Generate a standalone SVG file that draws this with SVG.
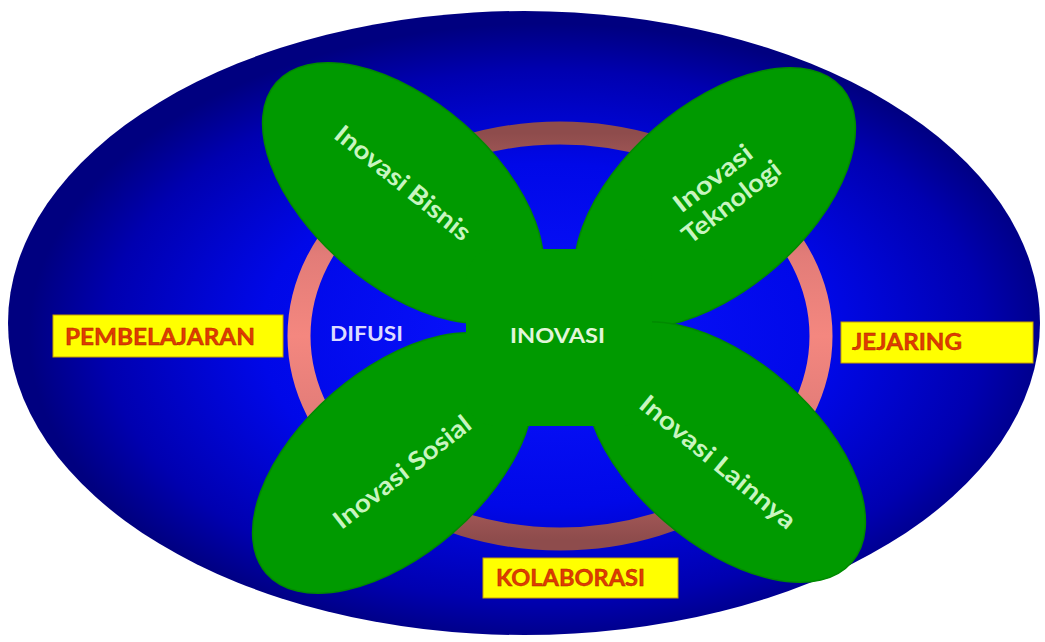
<svg xmlns="http://www.w3.org/2000/svg" width="1045" height="642" viewBox="0 0 1045 642">
<style>
.petal{fill:#009a00;stroke:#008a00;stroke-width:1.5}
.ptxt{font-family:Lato,"Open Sans",sans-serif;font-weight:bold;font-size:25px;fill:#c8f5c0;text-anchor:middle}
.lbox{fill:#ffff00;stroke:#c8a000;stroke-width:1}
.ltxt{font-family:Lato,"Open Sans",sans-serif;font-weight:bold;font-size:22px;fill:#e23a00;stroke:#a02800;stroke-width:0.4}
.ctxt{font-family:Lato,"Open Sans",sans-serif;font-weight:bold;font-size:21px}
</style>
<defs>
<radialGradient id="bg" cx="0.52" cy="0.52" r="0.5">
<stop offset="0" stop-color="#0a14ff"/>
<stop offset="0.55" stop-color="#0008e8"/>
<stop offset="0.85" stop-color="#0000b0"/>
<stop offset="1" stop-color="#000080"/>
</radialGradient>
<linearGradient id="ring" x1="0" y1="0" x2="0" y2="1">
<stop offset="0" stop-color="#8e4c4c"/>
<stop offset="0.3" stop-color="#e27c78"/>
<stop offset="0.5" stop-color="#f4877f"/>
<stop offset="0.7" stop-color="#e27c78"/>
<stop offset="1" stop-color="#8e4c4c"/>
</linearGradient>
</defs>
<rect width="1045" height="642" fill="#ffffff"/>
<ellipse cx="524" cy="323" rx="516" ry="312" fill="url(#bg)"/>
<ellipse cx="560" cy="336" rx="261" ry="203" fill="none" stroke="url(#ring)" stroke-width="23"/>
<g id="connectors"/>
<g id="petal-bisnis">
<ellipse class="petal" cx="403" cy="193" rx="168" ry="92" transform="rotate(41 403 193)"/>
</g>
<g id="petal-teknologi">
<ellipse class="petal" cx="715" cy="198" rx="168" ry="92" transform="rotate(-41 715 198)"/>
</g>
<g id="petal-sosial">
<ellipse class="petal" cx="393" cy="463" rx="168" ry="92" transform="rotate(-41 393 463)"/>
</g>
<g id="petal-lainnya">
<ellipse class="petal" cx="725" cy="452" rx="168" ry="92" transform="rotate(41 725 452)"/>
</g>
<g id="inovasi">
<rect x="466" y="249" width="186" height="177" rx="30" fill="#009a00"/>
<text class="ctxt" x="510" y="343" fill="#e2f6da" textLength="95" lengthAdjust="spacingAndGlyphs">INOVASI</text>
</g>
<g id="t-bisnis"><text class="ptxt" transform="translate(403 183) rotate(39)" dy="0.35em" textLength="167" lengthAdjust="spacingAndGlyphs">Inovasi Bisnis</text></g>
<g id="t-teknologi"><text class="ptxt" transform="translate(722 190) rotate(-38)"><tspan x="0" y="-15" dy="0.35em" textLength="93" lengthAdjust="spacingAndGlyphs">Inovasi</tspan><tspan x="0" y="15" dy="0.35em" textLength="118" lengthAdjust="spacingAndGlyphs">Teknologi</tspan></text></g>
<g id="t-sosial"><text class="ptxt" transform="translate(402 472) rotate(-38)" dy="0.35em" textLength="167" lengthAdjust="spacingAndGlyphs">Inovasi Sosial</text></g>
<g id="t-lainnya"><text class="ptxt" transform="translate(718 462) rotate(39.5)" dy="0.35em" textLength="194" lengthAdjust="spacingAndGlyphs">Inovasi Lainnya</text></g>
<g id="difusi"><text class="ctxt" x="330" y="341" fill="#dcdcff" textLength="73" lengthAdjust="spacingAndGlyphs">DIFUSI</text></g>
<g id="pembelajaran">
<rect class="lbox" x="53" y="315" width="230" height="42"/>
<text class="ltxt" x="65" y="345" textLength="190" lengthAdjust="spacingAndGlyphs">PEMBELAJARAN</text>
</g>
<g id="jejaring">
<rect class="lbox" x="841" y="322" width="192" height="41"/>
<text class="ltxt" x="852" y="350" textLength="110" lengthAdjust="spacingAndGlyphs">JEJARING</text>
</g>
<g id="kolaborasi">
<rect class="lbox" x="483" y="558" width="195" height="40"/>
<text class="ltxt" x="496" y="586" textLength="149" lengthAdjust="spacingAndGlyphs">KOLABORASI</text>
</g>
</svg>
